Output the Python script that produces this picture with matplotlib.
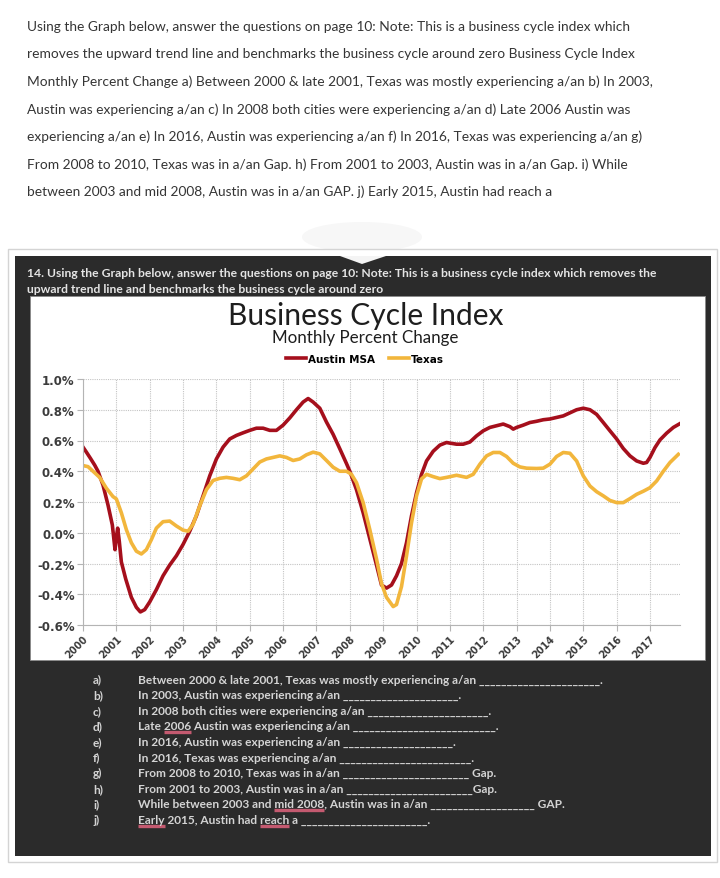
import matplotlib
matplotlib.use("Agg")
import matplotlib.pyplot as plt
from matplotlib.patches import Rectangle, Polygon, Ellipse
from matplotlib.transforms import ScaledTranslation

# ---- data (percent) ----
austin_year = [2000.00, 2000.10, 2000.22, 2000.35, 2000.45, 2000.60, 2000.75, 2000.88, 2000.96,
               2001.00, 2001.04, 2001.09, 2001.15, 2001.28, 2001.45, 2001.60, 2001.72, 2001.85,
               2002.00, 2002.20, 2002.40, 2002.60, 2002.80, 2003.00, 2003.20, 2003.40, 2003.60,
               2003.80, 2004.00, 2004.20, 2004.40, 2004.60, 2004.80, 2005.00, 2005.20, 2005.40,
               2005.60, 2005.80, 2006.00, 2006.20, 2006.40, 2006.60, 2006.75, 2006.90, 2007.10,
               2007.30, 2007.50, 2007.70, 2007.90, 2008.00, 2008.20, 2008.40, 2008.60, 2008.80,
               2008.95, 2009.10, 2009.25, 2009.40, 2009.55, 2009.70, 2009.85, 2010.00, 2010.15,
               2010.30, 2010.50, 2010.70, 2010.90, 2011.00, 2011.20, 2011.40, 2011.60, 2011.80,
               2012.00, 2012.20, 2012.40, 2012.60, 2012.80, 2012.90, 2013.00, 2013.20, 2013.40,
               2013.60, 2013.80, 2014.00, 2014.20, 2014.40, 2014.60, 2014.80, 2015.00, 2015.20,
               2015.40, 2015.60, 2015.80, 2016.00, 2016.20, 2016.40, 2016.60, 2016.80, 2016.90,
               2017.00, 2017.15, 2017.30, 2017.50, 2017.70, 2017.90]
austin_val = [0.557, 0.525, 0.485, 0.44, 0.40, 0.31, 0.18, 0.05, -0.11,
              -0.03, 0.03, -0.06, -0.19, -0.30, -0.42, -0.485, -0.515, -0.50,
              -0.45, -0.37, -0.28, -0.21, -0.15, -0.076, 0.01, 0.11, 0.24,
              0.37, 0.48, 0.557, 0.61, 0.633, 0.65, 0.666, 0.68, 0.68,
              0.666, 0.666, 0.70, 0.747, 0.80, 0.85, 0.873, 0.85, 0.81,
              0.72, 0.64, 0.546, 0.45, 0.40, 0.28, 0.13, -0.04, -0.21,
              -0.34, -0.36, -0.34, -0.28, -0.20, -0.065, 0.11, 0.26, 0.38,
              0.467, 0.53, 0.57, 0.587, 0.583, 0.576, 0.576, 0.59, 0.63,
              0.663, 0.685, 0.696, 0.707, 0.69, 0.674, 0.685, 0.70, 0.717,
              0.725, 0.735, 0.74, 0.75, 0.76, 0.78, 0.80, 0.81, 0.80,
              0.77, 0.717, 0.663, 0.61, 0.548, 0.50, 0.467, 0.452, 0.457,
              0.49, 0.554, 0.604, 0.648, 0.685, 0.71]

texas_year = [2000.00, 2000.15, 2000.30, 2000.50, 2000.70, 2000.90, 2001.00, 2001.15, 2001.30,
              2001.45, 2001.60, 2001.75, 2001.90, 2002.05, 2002.20, 2002.40, 2002.60, 2002.80,
              2003.00, 2003.15, 2003.30, 2003.50, 2003.70, 2003.90, 2004.10, 2004.30, 2004.50,
              2004.70, 2004.90, 2005.10, 2005.30, 2005.50, 2005.70, 2005.90, 2006.10, 2006.30,
              2006.50, 2006.70, 2006.90, 2007.10, 2007.30, 2007.50, 2007.70, 2007.90, 2008.05,
              2008.20, 2008.40, 2008.60, 2008.80, 2008.95, 2009.10, 2009.30, 2009.40, 2009.55,
              2009.70, 2009.85, 2010.00, 2010.15, 2010.30, 2010.50, 2010.70, 2010.90, 2011.20,
              2011.50, 2011.70, 2011.90, 2012.10, 2012.30, 2012.50, 2012.70, 2012.90, 2013.10,
              2013.30, 2013.60, 2013.80, 2014.00, 2014.20, 2014.40, 2014.60, 2014.80, 2015.00,
              2015.20, 2015.40, 2015.60, 2015.80, 2016.00, 2016.20, 2016.40, 2016.60, 2016.80,
              2017.00, 2017.20, 2017.40, 2017.60, 2017.85]
texas_val = [0.437, 0.43, 0.40, 0.36, 0.29, 0.235, 0.22, 0.13, 0.02,
             -0.065, -0.12, -0.138, -0.11, -0.045, 0.03, 0.072, 0.076, 0.044,
             0.017, 0.01, 0.055, 0.175, 0.28, 0.34, 0.354, 0.36, 0.354,
             0.345, 0.37, 0.415, 0.46, 0.48, 0.49, 0.50, 0.49, 0.47,
             0.48, 0.507, 0.524, 0.513, 0.47, 0.426, 0.40, 0.40, 0.38,
             0.326, 0.196, 0.02, -0.17, -0.33, -0.42, -0.48, -0.467, -0.35,
             -0.15, 0.065, 0.24, 0.35, 0.38, 0.365, 0.352, 0.36, 0.374,
             0.36, 0.38, 0.446, 0.50, 0.522, 0.522, 0.496, 0.452, 0.428,
             0.42, 0.418, 0.42, 0.446, 0.496, 0.522, 0.517, 0.467, 0.37,
             0.304, 0.267, 0.24, 0.21, 0.196, 0.196, 0.222, 0.25, 0.27,
             0.293, 0.337, 0.40, 0.457, 0.51]

years = list(range(2000, 2018))
ytick_vals = [-0.6, -0.4, -0.2, 0.0, 0.2, 0.4, 0.6, 0.8, 1.0]
ytick_labels = ["-0.6%", "-0.4%", "-0.2%", "0.0%", "0.2%", "0.4%", "0.6%", "0.8%", "1.0%"]

para_lines = [
    "Using the Graph below, answer the questions on page 10: Note: This is a business cycle index which",
    "removes the upward trend line and benchmarks the business cycle around zero Business Cycle Index",
    "Monthly Percent Change a) Between 2000 & late 2001, Texas was mostly experiencing a/an b) In 2003,",
    "Austin was experiencing a/an c) In 2008 both cities were experiencing a/an d) Late 2006 Austin was",
    "experiencing a/an e) In 2016, Austin was experiencing a/an f) In 2016, Texas was experiencing a/an g)",
    "From 2008 to 2010, Texas was in a/an Gap. h) From 2001 to 2003, Austin was in a/an Gap. i) While",
    "between 2003 and mid 2008, Austin was in a/an GAP. j) Early 2015, Austin had reach a",
]
header_lines = [
    "14. Using the Graph below, answer the questions on page 10: Note: This is a business cycle index which removes the",
    "upward trend line and benchmarks the business cycle around zero",
]
q_labels = ["a)", "b)", "c)", "d)", "e)", "f)", "g)", "h)", "i)", "j)"]
q_text = [
    "Between 2000 & late 2001, Texas was mostly experiencing a/an",
    "In 2003, Austin was experiencing a/an",
    "In 2008 both cities were experiencing a/an",
    "Late 2006 Austin was experiencing a/an",
    "In 2016, Austin was experiencing a/an",
    "In 2016, Texas was experiencing a/an",
    "From 2008 to 2010, Texas was in a/an",
    "From 2001 to 2003, Austin was in a/an",
    "While between 2003 and mid 2008, Austin was in a/an",
    "Early 2015, Austin had reach a",
]
q_suffix = [".", ".", ".", ".", ".", ".", " Gap.", "Gap.", " GAP.", "."]
q_blank_end = [600, 458, 490, 495, 452, 470, 468, 472, 532, 425]
# (question index, text before word, underlined word)
squiggles = [(3, "Late ", "2006"), (8, "While between 2003 and ", "mid 2008"),
             (9, "", "Early"), (9, "Early 2015, Austin had ", "reach")]

W, H = 720, 879
fig = plt.figure(figsize=(7.2, 8.79), dpi=100)
bg = fig.add_axes([0, 0, 1, 1])
bg.set_xlim(0, W)
bg.set_ylim(H, 0)
bg.axis("off")
renderer = fig.canvas.get_renderer()


def text_width(s, size, **kw):
    t = bg.text(0, 0, s, fontsize=size, **kw)
    w = t.get_window_extent(renderer).width
    t.remove()
    return w


def fit(s, target, **kw):
    return 10 * target / text_width(s, 10, **kw)


# top paragraph
pfont = dict(family="Lato", color="#353535")
psize = fit(para_lines[0], 606, **pfont)
for i, line in enumerate(para_lines):
    bg.text(27, 27 + i * 27.5, line, fontsize=psize, va="center", **pfont)

# frame, dark panel, white chart area
bg.add_patch(Ellipse((362, 238), 120, 30, fc="#f7f7f7", ec="none"))
bg.add_patch(Rectangle((8, 250), 709, 613, fc="white", ec="#d4d4d4", lw=1))
bg.add_patch(Rectangle((15, 257), 696, 600, fc="#2b2b2b", ec="none"))
bg.add_patch(Polygon([(340, 257), (386, 257), (362, 265)], fc="#f4f4f4", ec="none"))
bg.add_patch(Rectangle((30, 297), 675, 364, fc="white", ec="#8a8a8a", lw=0.6))

hfont = dict(family="Lato", weight="bold", color="#e4e4e4")
hsize = fit(header_lines[0], 628, **hfont)
bg.text(27, 274, header_lines[0], fontsize=hsize, va="center", **hfont)
bg.text(27, 290, header_lines[1], fontsize=hsize, va="center", **hfont)

tfont = dict(family="Lato", color="#1e1e1e")
bg.text(366, 316, "Business Cycle Index", fontsize=fit("Business Cycle Index", 275, **tfont),
        ha="center", va="center", **tfont)
bg.text(365, 338, "Monthly Percent Change", fontsize=fit("Monthly Percent Change", 187, **tfont),
        ha="center", va="center", **tfont)

# questions
qfont = dict(family="Lato", weight="bold", color="#d4d4d4")
qsize = fit(q_text[0], 342, **qfont)
uw = text_width("_" * 20, qsize, **qfont) / 20
q_y = [680 + i * 15.6 for i in range(len(q_text))]
for i in range(len(q_text)):
    bg.text(93, q_y[i], q_labels[i], fontsize=qsize, va="center", **qfont)
    w0 = text_width(q_text[i] + " _", qsize, **qfont)
    n = 1 + max(0, round((q_blank_end[i] - 138 - w0) / uw))
    bg.text(138, q_y[i], q_text[i] + " " + "_" * n + q_suffix[i], fontsize=qsize, va="center", **qfont)
for qi, before, word in squiggles:
    x1 = 138 + text_width(before + word, qsize, **qfont)
    x0 = x1 - text_width(word, qsize, **qfont)
    bg.plot([x0, x1], [q_y[qi] + 6.5, q_y[qi] + 6.5], color="#c45a70", lw=2.4, solid_capstyle="butt")

# chart
ax = fig.add_axes([83 / W, 1 - 626 / H, (680 - 83) / W, (626 - 380) / H])
ax.set_facecolor("none")
ax.plot(austin_year, austin_val, color="#a50f1c", lw=2.6, label="Austin MSA", solid_joinstyle="round")
ax.plot(texas_year, texas_val, color="#f2b63c", lw=2.6, label="Texas", solid_joinstyle="round")
ax.set_xlim(2000, 2017.9)
ax.set_ylim(-0.6, 1.0)
ax.set_xticks(years)
ax.set_xticklabels([str(y) for y in years], rotation=45, ha="right", rotation_mode="anchor",
                   fontsize=7, fontweight="bold")
ax.set_yticks(ytick_vals)
ax.set_yticklabels(ytick_labels, fontsize=8.5, fontweight="bold")
for lbl in ax.get_xticklabels():
    lbl.set_transform(lbl.get_transform() + ScaledTranslation(0.05, 0.02, fig.dpi_scale_trans))
ax.grid(True, color="#c4c4c4", linestyle=(0, (1, 1)), linewidth=0.8)
ax.set_axisbelow(True)
for s in ["top", "right"]:
    ax.spines[s].set_visible(False)
for s in ["left", "bottom"]:
    ax.spines[s].set_color("#b4b4b4")
    ax.spines[s].set_linewidth(0.8)
ax.tick_params(length=4, color="#b4b4b4", labelcolor="#3c3c3c", pad=2)
ax.legend(loc="center", bbox_to_anchor=(365 / W, 1 - 360 / H), bbox_transform=fig.transFigure,
          ncol=2, frameon=False, prop={"weight": "bold", "size": 7.5}, handlelength=1.9,
          handletextpad=0.2, columnspacing=1.3)

fig.savefig("out.png", dpi=100)
